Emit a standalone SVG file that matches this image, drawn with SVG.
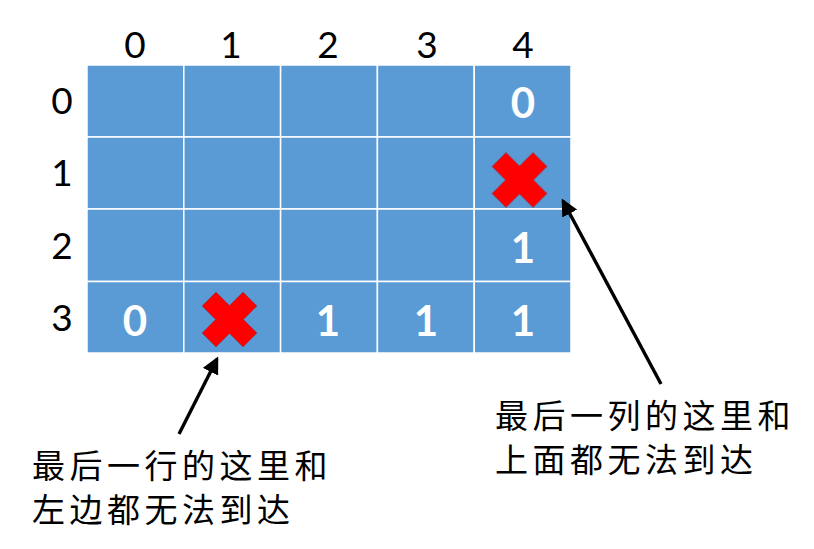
<svg xmlns="http://www.w3.org/2000/svg" width="814" height="549" viewBox="0 0 814 549">
<style>
.cell{fill:#5B9BD5;stroke:#FFFFFF;stroke-width:1.5}
.hdr{font-family:Lato,"Liberation Sans",sans-serif;font-size:37px;fill:#000;text-anchor:middle}
.val{font-family:Lato,"Liberation Sans",sans-serif;font-size:42px;font-weight:bold;fill:#FFF;text-anchor:middle}
.note{font-family:"Noto Sans CJK SC",sans-serif;font-size:33px;letter-spacing:4.5px;fill:#000}
.x{fill:#FF0000;stroke:#7A4A6A;stroke-width:0.8}
.conn{stroke:#000;stroke-width:3.4;fill:none}
</style>
<defs>
<marker id="ah" markerWidth="5" markerHeight="5" refX="4.2" refY="2.5" orient="auto" markerUnits="strokeWidth">
<path d="M0,0 L5,2.5 L0,5 Z" fill="#000"/>
</marker>
<polygon id="cross" points="-27.5,-13.5 -13.5,-27.5 0,-14 13.5,-27.5 27.5,-13.5 14,0 27.5,13.5 13.5,27.5 0,14 -13.5,27.5 -27.5,13.5 -14,0"/>
</defs>
<g id="grid">
<rect class="cell" x="87" y="65" width="96.8" height="72"/>
<rect class="cell" x="183.8" y="65" width="96.8" height="72"/>
<rect class="cell" x="280.6" y="65" width="96.8" height="72"/>
<rect class="cell" x="377.4" y="65" width="96.8" height="72"/>
<rect class="cell" x="474.2" y="65" width="96.8" height="72"/>
<rect class="cell" x="87" y="137" width="96.8" height="72"/>
<rect class="cell" x="183.8" y="137" width="96.8" height="72"/>
<rect class="cell" x="280.6" y="137" width="96.8" height="72"/>
<rect class="cell" x="377.4" y="137" width="96.8" height="72"/>
<rect class="cell" x="474.2" y="137" width="96.8" height="72"/>
<rect class="cell" x="87" y="209" width="96.8" height="72.5"/>
<rect class="cell" x="183.8" y="209" width="96.8" height="72.5"/>
<rect class="cell" x="280.6" y="209" width="96.8" height="72.5"/>
<rect class="cell" x="377.4" y="209" width="96.8" height="72.5"/>
<rect class="cell" x="474.2" y="209" width="96.8" height="72.5"/>
<rect class="cell" x="87" y="281.5" width="96.8" height="71.5"/>
<rect class="cell" x="183.8" y="281.5" width="96.8" height="71.5"/>
<rect class="cell" x="280.6" y="281.5" width="96.8" height="71.5"/>
<rect class="cell" x="377.4" y="281.5" width="96.8" height="71.5"/>
<rect class="cell" x="474.2" y="281.5" width="96.8" height="71.5"/>
</g>
<g id="col-headers">
<text class="hdr" x="135" y="58">0</text>
<text class="hdr" x="231" y="58">1</text>
<text class="hdr" x="328" y="58">2</text>
<text class="hdr" x="427" y="58">3</text>
<text class="hdr" x="523" y="58">4</text>
</g>
<g id="row-headers">
<text class="hdr" x="62" y="114">0</text>
<text class="hdr" x="62" y="186">1</text>
<text class="hdr" x="62" y="258.5">2</text>
<text class="hdr" x="62" y="330.5">3</text>
</g>
<g id="values">
<text class="val" x="523" y="118">0</text>
<text class="val" x="523" y="263">1</text>
<text class="val" x="135" y="336">0</text>
<text class="val" x="328" y="336">1</text>
<text class="val" x="426" y="336">1</text>
<text class="val" x="523" y="336">1</text>
</g>
<g id="blocked">
<use href="#cross" class="x" x="519.5" y="180"/>
<use href="#cross" class="x" x="229.5" y="319.5"/>
</g>
<g id="connectors">
<line class="conn" x1="661" y1="384" x2="563" y2="201" marker-end="url(#ah)"/>
<line class="conn" x1="179" y1="434" x2="217" y2="359" marker-end="url(#ah)"/>
</g>
<g id="note-left">
<text class="note" x="32" y="478">最后一行的这里和</text>
<text class="note" x="32" y="522">左边都无法到达</text>
</g>
<g id="note-right">
<text class="note" x="495" y="428">最后一列的这里和</text>
<text class="note" x="495" y="472">上面都无法到达</text>
</g>
</svg>
